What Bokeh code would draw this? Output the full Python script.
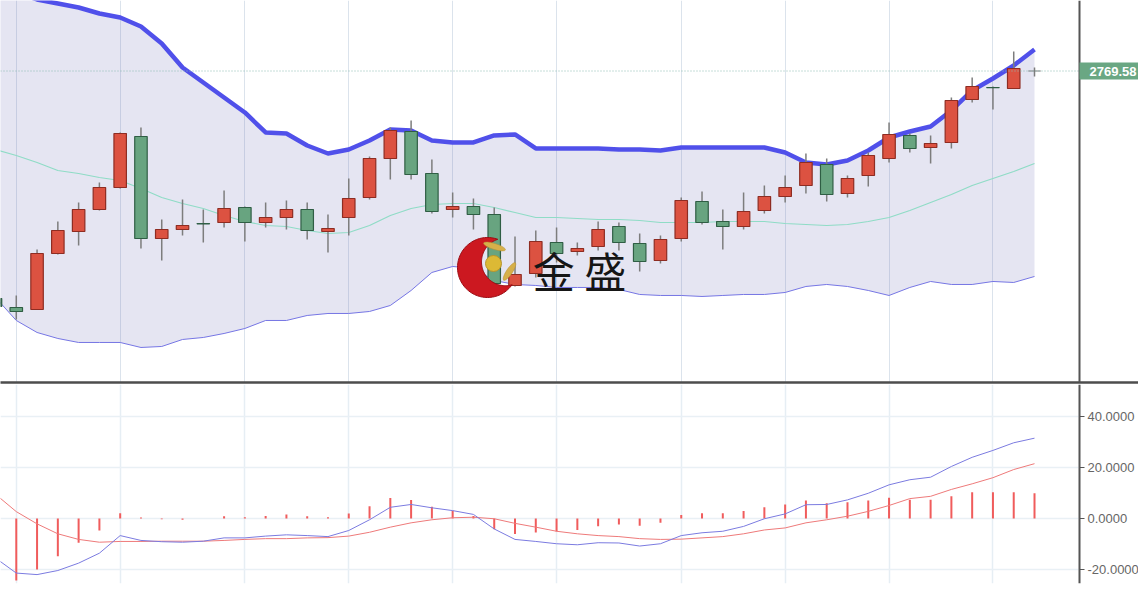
import numpy as np
from bokeh.plotting import figure
from bokeh.layouts import column
from bokeh.models import Range1d, FixedTicker, Span, Label
from bokeh.core.properties import value
from bokeh.embed import file_html
from bokeh.resources import INLINE

# ---------------- data ----------------
idx = list(range(51))
open_ = [2542.1, 2533.1, 2531.1, 2587.1, 2609.1, 2631.1, 2653.1, 2704.1, 2602.1, 2611.1,
         2617.1, 2618.1, 2633.1, 2618.1, 2623.1, 2631.1, 2609.1, 2623.1, 2643.1, 2682.1,
         2709.1, 2667.1, 2631.1, 2634.1, 2626.1, 2555.1, 2567.1, 2598.1, 2589.1, 2594.1,
         2614.1, 2597.1, 2580.1, 2602.1, 2639.1, 2619.1, 2614.1, 2630.1, 2644.1, 2655.1,
         2676.1, 2647.1, 2665.1, 2682.1, 2705.1, 2693.1, 2698.1, 2741.1, 2753.1, 2752.1,
         2769.58]
close = [2534.1, 2529.1, 2587.1, 2610.1, 2631.1, 2653.1, 2707.1, 2602.1, 2611.1, 2615.1,
         2616.8, 2632.1, 2618.1, 2623.1, 2631.1, 2610.1, 2612.1, 2642.1, 2682.1, 2710.1,
         2666.1, 2629.1, 2634.1, 2626.1, 2557.1, 2566.1, 2599.1, 2587.1, 2592.1, 2611.1,
         2598.1, 2579.1, 2601.1, 2640.1, 2618.1, 2614.1, 2629.1, 2644.1, 2653.1, 2678.1,
         2646.1, 2662.1, 2685.1, 2706.1, 2692.1, 2697.1, 2740.1, 2754.1, 2752.9, 2772.1,
         2769.58]
high = [2546.1, 2545.1, 2591.1, 2619.1, 2638.1, 2658.1, 2708.1, 2713.1, 2621.1, 2641.1,
        2631.1, 2650.1, 2634.1, 2638.1, 2640.1, 2638.1, 2626.1, 2662.1, 2684.1, 2713.1,
        2720.1, 2681.1, 2648.1, 2642.1, 2633.1, 2604.1, 2610.1, 2613.1, 2598.1, 2619.1,
        2618.1, 2607.1, 2605.1, 2643.1, 2649.1, 2631.1, 2648.1, 2655.1, 2665.1, 2687.1,
        2682.1, 2665.1, 2688.1, 2718.1, 2707.1, 2705.1, 2743.1, 2763.1, 2754.1, 2789.1,
        2773.1]
low = [2530.1, 2521.1, 2531.1, 2586.1, 2595.1, 2630.1, 2652.1, 2592.1, 2580.1, 2605.1,
       2598.1, 2613.1, 2599.1, 2613.1, 2611.1, 2601.1, 2588.1, 2605.1, 2641.1, 2661.1,
       2661.1, 2627.1, 2623.1, 2611.1, 2554.1, 2554.1, 2563.1, 2578.1, 2585.1, 2590.1,
       2590.1, 2569.1, 2577.1, 2599.1, 2616.1, 2591.1, 2611.1, 2627.1, 2638.1, 2647.1,
       2639.1, 2643.1, 2654.1, 2678.1, 2688.1, 2677.1, 2692.1, 2738.1, 2731.1, 2752.1,
       2764.1]
upper = [2855.1, 2848.1, 2841.1, 2837.1, 2833.1, 2827.1, 2823.1, 2814.1, 2797.1, 2773.1,
         2758.1, 2743.1, 2728.1, 2708.1, 2707.1, 2695.1, 2687.1, 2691.1, 2700.1, 2711.1,
         2710.1, 2700.1, 2698.1, 2698.1, 2705.1, 2706.1, 2692.1, 2692.1, 2692.1, 2692.1,
         2691.1, 2691.1, 2690.1, 2693.1, 2693.1, 2693.1, 2693.1, 2693.1, 2688.1, 2678.1,
         2676.1, 2680.1, 2690.1, 2703.1, 2709.1, 2714.1, 2730.1, 2750.1, 2762.1, 2775.1,
         2791.1]
middle = [2691.1, 2685.1, 2678.1, 2670.1, 2667.1, 2663.1, 2660.1, 2652.1, 2643.1, 2637.1,
          2632.1, 2625.1, 2619.1, 2615.1, 2614.1, 2610.1, 2607.1, 2608.1, 2615.1, 2625.1,
          2632.1, 2636.1, 2637.1, 2637.1, 2633.1, 2628.1, 2623.1, 2623.1, 2622.1, 2621.1,
          2621.1, 2620.1, 2618.1, 2618.1, 2618.1, 2619.1, 2619.1, 2619.1, 2617.1, 2616.1,
          2615.1, 2616.1, 2619.1, 2623.1, 2630.1, 2638.1, 2646.1, 2655.1, 2662.1, 2669.1,
          2677.1]
lower = [2543.1, 2520.1, 2508.1, 2502.1, 2498.1, 2498.1, 2498.1, 2493.1, 2494.1, 2501.1,
         2503.1, 2507.1, 2512.1, 2520.1, 2520.1, 2525.1, 2527.1, 2527.1, 2529.1, 2535.1,
         2550.1, 2568.1, 2574.1, 2572.1, 2560.1, 2556.1, 2555.1, 2553.1, 2553.1, 2553.1,
         2551.1, 2546.1, 2545.1, 2545.1, 2544.1, 2545.1, 2546.1, 2546.1, 2548.1, 2554.1,
         2556.1, 2554.1, 2550.1, 2545.1, 2553.1, 2559.1, 2556.1, 2556.1, 2559.1, 2558.1,
         2564.1]
dif = [-15.5, -21.4, -22.0, -20.4, -17.5, -13.6, -6.7, -8.6, -9.1, -9.3,
       -8.9, -7.6, -7.6, -6.9, -6.4, -6.7, -7.1, -4.7, -0.5, 4.4,
       5.5, 4.2, 3.1, 1.6, -4.1, -8.2, -9.0, -9.9, -10.3, -9.5,
       -9.6, -10.8, -9.9, -6.7, -5.6, -5.0, -3.1, -0.1, 1.8, 5.4,
       5.5, 7.3, 9.9, 13.2, 15.2, 16.2, 20.4, 24.0, 26.7, 29.7,
       31.5]
dea = [9.5, 2.7, -2.1, -6.0, -8.2, -9.3, -9.0, -9.0, -8.9, -8.9,
       -8.9, -8.6, -8.2, -7.9, -7.9, -7.6, -7.5, -6.9, -5.4, -3.4,
       -1.7, -0.5, 0.3, 0.5, -0.1, -1.9, -3.4, -5.0, -6.0, -6.7,
       -7.1, -7.9, -8.2, -8.1, -7.6, -7.1, -6.0, -4.5, -3.7, -1.7,
       -0.5, 0.9, 2.8, 5.1, 7.8, 8.7, 11.4, 13.6, 16.0, 19.2,
       21.5]
hist = [-25.0, -24.3, -20.0, -14.8, -9.5, -4.7, 2.1, 0.4, -0.3, -0.5,
        0.0, 0.9, 0.5, 1.0, 1.6, 0.9, 0.5, 2.0, 4.8, 8.0,
        7.3, 4.6, 3.0, 1.0, -4.2, -6.1, -5.5, -5.1, -4.5, -3.0,
        -2.4, -2.8, -1.7, 1.4, 2.1, 2.1, 2.9, 4.4, 5.5, 7.1,
        6.0, 6.4, 7.1, 8.1, 7.4, 7.4, 8.7, 10.3, 10.3, 10.3,
        9.9]
last_price = 2769.58
last_price_text = "2769.58"
grid_idx = [1, 6, 12, 17, 22, 27, 33, 38, 43, 48]
macd_ticks = [-20, 0, 20, 40]
macd_tick_labels = ["%.4f" % t for t in macd_ticks]
brand = "金 盛"

# ---------------- layout constants ----------------
W = 1138
AXIS_PX = 1079           # pixel column of the price / MACD axis line
TOP_H = 382
SEP = 2
BOT_H = 199
BOT_PAD = 589 - TOP_H - SEP - BOT_H
X0 = 0.2406              # index at the left edge
XPX = 51.8764 / 1078.0   # index units per pixel
XT1 = X0 + W * XPX
Y0, Y1 = 2458.08, 2840.08
M0, M1 = -25.49, 52.55

RED, RED_L = "#dc5241", "#8e2c22"
GRN, GRN_L = "#68a480", "#2f5e44"
GRAY = "#7a7a7a"


def kx(px):
    return X0 + px * XPX


def ky(py):
    return Y1 - py * (Y1 - Y0) / TOP_H


# ---------------- top panel ----------------
p = figure(width=W, frame_height=TOP_H, x_range=Range1d(X0, XT1), y_range=Range1d(Y0, Y1),
           output_backend="svg", toolbar_location=None, y_axis_location=None,
           min_border_left=0, min_border_right=0, min_border_top=0,
           min_border_bottom=SEP,
           outline_line_color=None, background_fill_color="white", border_fill_color="white")

p.xaxis.ticker = FixedTicker(ticks=[])
p.xaxis.major_tick_out = 0
p.xaxis.major_tick_in = 0
p.xaxis.major_label_standoff = 0
p.xaxis.minor_tick_line_color = None
p.xaxis.axis_line_color = "#4d4d4d"
p.xaxis.axis_line_width = 2.5
p.xgrid.ticker = FixedTicker(ticks=grid_idx)
p.xgrid.grid_line_color = "#dbe3ec"
p.xgrid.grid_line_width = 1
p.ygrid.visible = False

# Bollinger band
p.varea(x=idx, y1=lower, y2=upper, fill_color="#6464b4", fill_alpha=0.17)
p.line(idx, middle, line_color="#8fdcc6", line_width=1.2)
p.line(idx, lower, line_color="#7676e4", line_width=1)
p.line(idx, upper, line_color="#5050ea", line_width=4.5, line_join="round")

# candles
fill = [RED if c > o else (GRN if c < o else GRAY) for o, c in zip(open_, close)]
edge = [RED_L if c > o else (GRN_L if c < o else GRAY) for o, c in zip(open_, close)]
top = [max(o, c) for o, c in zip(open_, close)]
bot = [min(o, c) for o, c in zip(open_, close)]
p.segment(x0=idx, y0=high, x1=idx, y1=low, line_color="#7d7d7d", line_width=1.5)
p.vbar(x=idx, width=0.6, top=top, bottom=bot, fill_color=fill, line_color=edge, line_width=1.2)

# watermark logo (pixel-positioned)
c1 = (487.0, 267.0); R = 30.0
c2 = (504.8, 261.4); r = 23.8
t_out = np.radians(np.linspace(35, 290, 80))
t_in = np.radians(np.linspace(251.6, 73.4, 80))
cx = np.concatenate([c1[0] + R * np.cos(t_out), c2[0] + r * np.cos(t_in)])
cy = np.concatenate([c1[1] + R * np.sin(t_out), c2[1] + r * np.sin(t_in)])
p.patch([kx(v) for v in cx], [ky(v) for v in cy], fill_color="#cc1820", line_color="#9a0d14",
        line_width=1)
p.ellipse(x=[kx(494), kx(509)], y=[ky(246), ky(271)], width=[23, 21], height=[6, 6],
          angle=[-0.3, 0.98], width_units="screen", height_units="screen",
          fill_color="#d6b04a", line_color="#b89030", line_width=0.5)
p.circle(x=[kx(493)], y=[ky(263)], radius=8, radius_units="screen",
         fill_color="#dcb935", line_color="#b8942a")
p.text(x=[kx(579)], y=[ky(269)], text=[brand], text_font=value("Noto Sans CJK SC"),
       text_font_size="42px", text_align="center", text_baseline="middle", text_color="#161616")

# last-price line, price axis line and price tag
p.add_layout(Span(location=last_price, dimension="width", line_color="#8cbcb2",
                  line_dash="1 2", line_width=1))
p.add_layout(Span(location=kx(AXIS_PX), dimension="height", line_color="#555555",
                  line_width=2))
p.add_layout(Label(x=kx(AXIS_PX), y=last_price, text=last_price_text, text_color="white",
                   text_font="Liberation Sans", text_font_style="bold",
                   text_font_size="13px", text_baseline="middle", x_offset=0,
                   background_fill_color="#6aa783",
                   padding=dict(left=10, right=4, top=4, bottom=4)))

# ---------------- MACD panel ----------------
q = figure(width=W, frame_height=BOT_H, x_range=Range1d(X0, XT1), y_range=Range1d(M0, M1),
           output_backend="svg", toolbar_location=None, y_axis_location=None,
           x_axis_location=None,
           min_border_left=0, min_border_right=0, min_border_top=0,
           min_border_bottom=BOT_PAD,
           outline_line_color=None, background_fill_color="white", border_fill_color="white")
q.ygrid.visible = False
q.xgrid.ticker = FixedTicker(ticks=grid_idx)
q.xgrid.grid_line_color = "#e6eef4"
q.xgrid.grid_line_width = 1.5

n_t = len(macd_ticks)
# horizontal grid lines (left of the axis only)
q.segment(x0=[X0] * n_t, x1=[kx(AXIS_PX - 1)] * n_t, y0=macd_ticks, y1=macd_ticks,
          line_color="#e9f0f5", line_width=1.5)

q.segment(x0=idx, y0=[0] * len(idx), x1=idx, y1=hist, line_color="#f05c5c", line_width=2)
q.line(idx, dea, line_color="#ee7a7a", line_width=1)
q.line(idx, dif, line_color="#7b7be0", line_width=1)

# MACD value axis (right side)
q.add_layout(Span(location=kx(AXIS_PX), dimension="height", line_color="#555555",
                  line_width=2))
q.segment(x0=[kx(AXIS_PX)] * n_t, x1=[kx(AXIS_PX + 5)] * n_t, y0=macd_ticks, y1=macd_ticks,
          line_color="#555555", line_width=1)
q.text(x=[kx(AXIS_PX + 8)] * n_t, y=macd_ticks, text=macd_tick_labels,
       text_font=value("Liberation Sans"), text_font_size="13px", text_color="#666666",
       text_align="left", text_baseline="middle")

layout = column(p, q, spacing=0)
open("out.html", "w").write(file_html(layout, INLINE))
